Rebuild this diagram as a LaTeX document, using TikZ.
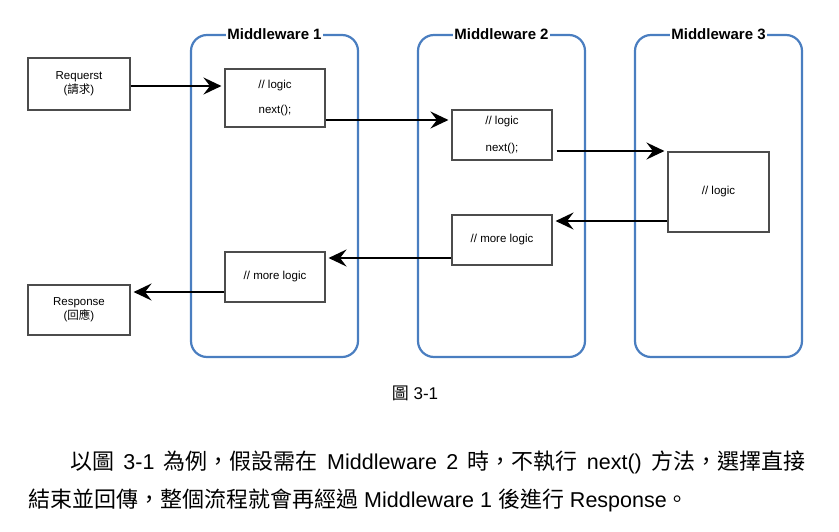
\documentclass[tikz,border=0pt]{standalone}
\usepackage{fontspec}
\setmainfont{Liberation Sans}
\newfontfamily\cjk{Noto Sans CJK TC}
\usepackage{xcolor}
\usetikzlibrary{positioning,arrows.meta}

\definecolor{mwblue}{RGB}{74,126,192}
\newcommand{\zh}[1]{{\cjk\fontsize{22}{24}\selectfont #1}}

\begin{document}
\begin{tikzpicture}[x=1pt, y=-1pt,
    mwbox/.style={draw=mwblue, line width=2.2pt, rounded corners=16pt,
        minimum width=167pt, minimum height=322pt},
    mwtitle/.style={fill=white, inner sep=1.5pt,
        font=\bfseries\fontsize{15}{17}\selectfont},
    codebox/.style={draw=black!70, line width=1.1pt, fill=white, align=center,
        minimum width=100pt, font=\fontsize{11.5}{14}\selectfont},
    flow/.style={-{Stealth[length=18pt,width=17pt,inset=6.5pt]},
        line width=1.8pt, shorten >=3pt},
    para/.style={anchor=west, inner sep=0pt, font=\fontsize{21.5}{24}\selectfont}]

    \useasboundingbox (0,0) rectangle (839,531);

    % middleware containers
    \node[mwbox] (mw1) at (274.5,196) {};
    \node[mwbox] (mw2) at (501.5,196) {};
    \node[mwbox] (mw3) at (718.5,196) {};
    \node[mwtitle] at (mw1.north) {Middleware 1};
    \node[mwtitle] at (mw2.north) {Middleware 2};
    \node[mwtitle] at (mw3.north) {Middleware 3};

    % request / response
    \node[codebox, minimum width=102pt, minimum height=52pt] (req) at (79,84)
        {Requerst\\({\cjk 請求})};
    \node[codebox, minimum width=102pt, minimum height=50pt] (res) at (79,310)
        {Response\\({\cjk 回應})};

    % logic boxes
    \node[codebox, minimum height=58pt] (l1) at (275,98) {// logic\\[11pt]next();};
    \node[codebox, minimum height=50pt] (m1) at (275,277) {// more logic};
    \node[codebox, minimum height=50pt] (l2) at (502,135) {// logic\\[13pt]next();};
    \node[codebox, minimum height=50pt] (m2) at (502,240) {// more logic};
    \node[codebox, minimum width=101pt, minimum height=80pt] (l3) at (718.5,192) {// logic};

    % flow
    \coordinate (a1) at ([yshift=-2pt]req.east);
    \coordinate (a2) at ([yshift=-22pt]l1.east);
    \coordinate (a3) at ([xshift=4pt,yshift=-16pt]l2.east);
    \coordinate (a4) at ([yshift=-29pt]l3.west);
    \coordinate (a5) at ([yshift=-18pt]m2.west);
    \coordinate (a6) at ([yshift=-15pt]m1.west);

    \draw[flow] (a1) -- (a1 -| l1.west);
    \draw[flow] (a2) -- (a2 -| l2.west);
    \draw[flow] (a3) -- (a3 -| l3.west);
    \draw[flow] (a4) -- (a4 -| m2.east);
    \draw[flow] (a5) -- (a5 -| m1.east);
    \draw[flow] (a6) -- (a6 -| res.east);

    % caption and text
    \node[font=\fontsize{17}{19}\selectfont] (cap) at (415,393) {{\cjk 圖} 3-1};
    \node[para] (p1) at (70,462) {\makebox[735pt][s]{\zh{以圖} 3-1 \zh{為例，假設需在}
        Middleware 2 \zh{時，不執行} next() \zh{方法，選擇直接}}};
    \node[para] (p2) at (28,500) {\zh{結束並回傳，整個流程就會再經過} Middleware 1
        \zh{後進行} Response\zh{。}};

\end{tikzpicture}
\end{document}
